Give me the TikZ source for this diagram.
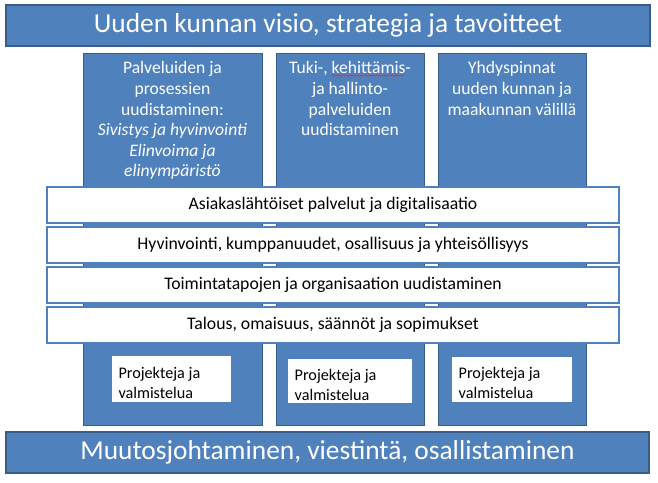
\documentclass[tikz,border=0pt]{standalone}
\usepackage{fontspec}
\setmainfont{Carlito}
\usetikzlibrary{positioning,decorations.pathmorphing}

\definecolor{sininen}{HTML}{4F81BD}
\definecolor{tummasininen}{HTML}{385D8A}
\definecolor{punainen}{HTML}{E03030}

\tikzset{
  palkki/.style={draw=tummasininen, line width=1.2pt, fill=sininen, text=white,
    inner sep=0pt, font=\fontsize{27.4}{30}\selectfont},
  pylvas/.style={draw=tummasininen, line width=1pt, fill=sininen, inner sep=0pt,
    anchor=north west},
  pylvasteksti/.style={text=white, align=center, anchor=north, inner sep=0pt,
    font=\fontsize{17.6}{20.6}\selectfont},
  kerros/.style={draw=sininen, line width=1.6pt, fill=white, inner sep=0pt,
    minimum width=572pt, minimum height=36pt, anchor=north,
    font=\fontsize{17.7}{20}\selectfont},
  projekti/.style={fill=white, inner sep=0pt, anchor=north west},
  projektiteksti/.style={align=left, anchor=north west, inner sep=0pt,
    font=\fontsize{16.2}{20}\selectfont}
}

\begin{document}
\begin{tikzpicture}[x=1pt,y=-1pt]
	\useasboundingbox (0,0) rectangle (658,482);

%visio
	\node[palkki, minimum width=644pt, minimum height=41pt] (visio) at (328,25.5)
		{Uuden kunnan visio, strategia ja tavoitteet};

%pylvaat
	\node[pylvas, minimum width=179pt, minimum height=372pt] (pylvas1) at (83,53) {};
	\node[pylvas, minimum width=148pt, minimum height=372pt] (pylvas2) at (276,53) {};
	\node[pylvas, minimum width=148pt, minimum height=372pt] (pylvas3) at (438,53) {};
	%
	\node[pylvasteksti] (teksti1) at (172.5,61.5)
		{Palveluiden ja\\prosessien\\uudistaminen:\\\textit{Sivistys ja hyvinvointi}\\\textit{Elinvoima ja}\\\textit{elinympäristö}};
	\node[pylvasteksti] (teksti2) at (350,61.5)
		{Tuki-, kehittämis-\\ja hallinto-\\palveluiden\\uudistaminen};
	\node[pylvasteksti] (teksti3) at (512,61.5)
		{Yhdyspinnat\\uuden kunnan ja\\maakunnan välillä};
	%oikeinkirjoitus
	\draw[punainen, line width=0.5pt, decorate,
		decoration={snake, amplitude=0.7pt, segment length=2.6pt}]
		(331.5,75.5) -- (404,75.5);

%kerrokset
	\node[kerros] (kerros1) at (333,186) {Asiakaslähtöiset palvelut ja digitalisaatio};
	\node[kerros] (kerros2) at (333,226) {Hyvinvointi, kumppanuudet, osallisuus ja yhteisöllisyys};
	\node[kerros] (kerros3) at (333,266) {Toimintatapojen ja organisaation uudistaminen};
	\node[kerros] (kerros4) at (333,306) {Talous, omaisuus, säännöt ja sopimukset};

%projektit
	\node[projekti, minimum width=119pt, minimum height=46pt] (projekti1) at (111.7,356) {};
	\node[projekti, minimum width=124pt, minimum height=44pt] (projekti2) at (288,359) {};
	\node[projekti, minimum width=120pt, minimum height=45pt] (projekti3) at (452,357) {};
	\node[projektiteksti] (ptext1) at (118.3,367) {Projekteja ja\\valmistelua};
	\node[projektiteksti] (ptext2) at (294.5,369) {Projekteja ja\\valmistelua};
	\node[projektiteksti] (ptext3) at (458.5,367) {Projekteja ja\\valmistelua};

%muutos
	\node[palkki, minimum width=643pt, minimum height=41pt] (muutos) at (327.5,452.5)
		{Muutosjohtaminen, viestintä, osallistaminen};
\end{tikzpicture}
\end{document}
